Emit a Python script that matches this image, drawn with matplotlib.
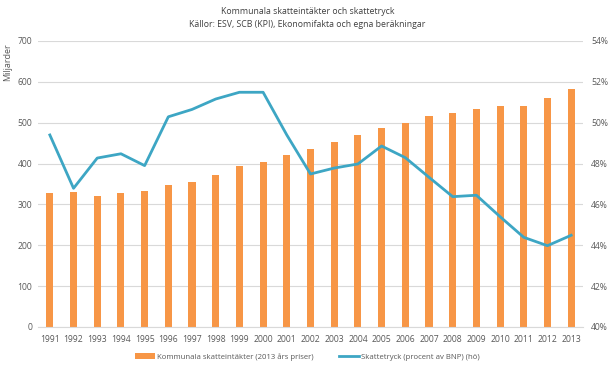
import matplotlib
matplotlib.use("Agg")
import matplotlib.pyplot as plt
from matplotlib.ticker import FuncFormatter

years = list(range(1991, 2014))
skatteintakter = [329, 330, 320, 329, 334, 347, 355, 372, 393, 404, 422, 435,
                  453, 471, 486, 499, 516, 524, 534, 542, 542, 560, 582]
skattetryck = [49.40, 46.79, 48.27, 48.48, 47.90, 50.29, 50.65, 51.16, 51.49, 51.49,
               49.40, 47.49, 47.78, 47.98, 48.86, 48.29, 47.33, 46.38, 46.45, 45.40,
               44.39, 43.98, 44.49]

title = "Kommunala skatteintäkter och skattetryck\nKällor: ESV, SCB (KPI), Ekonomifakta och egna beräkningar"
bar_label = "Kommunala skatteintäkter (2013 års priser)"
line_label = "Skattetryck (procent av BNP) (hö)"

plt.rcParams['font.family'] = ['Open Sans', 'DejaVu Sans']
txt = '#595959'
bar_c = '#F79646'
line_c = '#3DA6C4'

fig = plt.figure(figsize=(6.15, 3.86), dpi=100)
ax = fig.add_axes([38/615, 1-327/386, (583-38)/615, (327-41)/386])
x = list(range(len(years)))
bars = ax.bar(x, skatteintakter, width=0.3, color=bar_c, zorder=2, label=bar_label)
ax.set_ylim(0, 700)
ax.set_yticks(range(0, 701, 100))
ax.set_xlim(-0.5, len(years) - 0.5)
ax.set_xticks(x)
ax.set_xticklabels([str(y) for y in years])
ax.grid(axis='y', color='#D9D9D9', linewidth=0.8, zorder=0)
for s in ['top', 'left', 'right']:
    ax.spines[s].set_visible(False)
ax.spines['bottom'].set_color('#D9D9D9')
ax.tick_params(axis='both', length=0, labelsize=6.2, colors=txt, pad=4)
ax.tick_params(axis='x', pad=6)
ax.set_ylabel("Miljarder", fontsize=6.5, color=txt)
ax.yaxis.set_label_coords(-0.047, 0.925)

ax2 = ax.twinx()
line, = ax2.plot(x, skattetryck, color=line_c, linewidth=2, zorder=3, label=line_label)
ax2.set_ylim(40, 54)
ax2.set_yticks(range(40, 55, 2))
ax2.yaxis.set_major_formatter(FuncFormatter(lambda v, p: f"{int(v)}%"))
for s in ['top', 'left', 'right', 'bottom']:
    ax2.spines[s].set_visible(False)
ax2.tick_params(axis='y', length=0, labelsize=6.2, colors=txt, pad=6)

fig.text(0.5, 1 - 18/386, title, ha='center', va='center', fontsize=6.3, color='#404040', linespacing=1.45)

fig.legend([bars, line], [bar_label, line_label], loc='center', bbox_to_anchor=(0.5, 1 - 357/386),
           ncol=2, frameon=False, fontsize=5.6, labelcolor=txt, handlelength=2.6,
           handletextpad=0.3, columnspacing=3.2)

fig.savefig("out.png", dpi=100)
